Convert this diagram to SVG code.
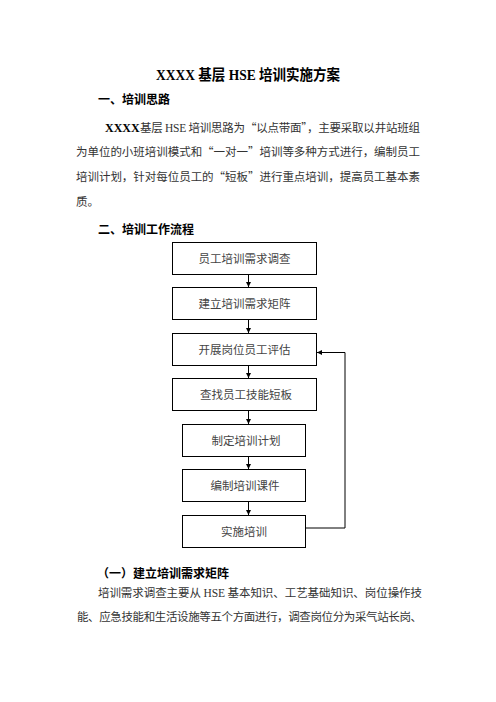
<svg xmlns="http://www.w3.org/2000/svg" width="496" height="702" viewBox="0 0 496 702">
<style>
.t{font-family:"Liberation Serif","Noto Sans CJK SC",serif;fill:#222}
.b{font-weight:bold;fill:#000}
.body{font-family:"Noto Sans CJK SC","Liberation Serif",sans-serif;font-size:11.5px;fill:#333}
.lat{font-family:"Liberation Serif","Noto Sans CJK SC",serif}
.box{fill:#fff;stroke:#000;stroke-width:1}
.bt{font-family:"Noto Sans CJK SC",sans-serif;font-size:11.5px;fill:#444;text-anchor:middle}
.ln{fill:none;stroke:#000;stroke-width:1}
</style>
<defs>
<marker id="ah" viewBox="0 0 10 10" refX="10" refY="5" markerWidth="5" markerHeight="5" orient="auto" markerUnits="userSpaceOnUse">
<path d="M0,0 L10,5 L0,10 z" fill="#000"/>
</marker>
</defs>
<rect width="496" height="702" fill="#fff"/>

<g id="title">
<text x="156" y="80" class="b" font-family="Liberation Serif,Noto Sans CJK SC,serif" font-size="15" textLength="184" lengthAdjust="spacingAndGlyphs"><tspan font-family="Liberation Serif">XXXX</tspan> <tspan font-family="Noto Sans CJK SC">基层</tspan> HSE <tspan font-family="Noto Sans CJK SC">培训实施方案</tspan></text>
</g>

<g id="section1">
<text x="98" y="104" font-family="Noto Sans CJK SC,sans-serif" font-size="12" font-weight="bold" fill="#000">一、培训思路</text>
<text x="105" y="132" font-family="Liberation Serif,serif" font-size="12" font-weight="bold" fill="#000">XXXX</text>
<text x="140" y="132" class="body" textLength="280" lengthAdjust="spacing">基层 <tspan class="lat">HSE</tspan> 培训思路为“以点带面”，主要采取以井站班组</text>
<text x="76" y="156" class="body" textLength="344" lengthAdjust="spacing">为单位的小班培训模式和“一对一”培训等多种方式进行，编制员工</text>
<text x="76" y="181" class="body" textLength="344" lengthAdjust="spacing">培训计划，针对每位员工的“短板”进行重点培训，提高员工基本素</text>
<text x="76" y="206" class="body">质。</text>
</g>

<g id="section2">
<text x="98" y="234" font-family="Noto Sans CJK SC,sans-serif" font-size="12" font-weight="bold" fill="#000">二、培训工作流程</text>
</g>

<g id="connectors">
<line class="ln" x1="248.5" y1="274" x2="248.5" y2="287" marker-end="url(#ah)"/>
<line class="ln" x1="248.5" y1="319" x2="248.5" y2="333" marker-end="url(#ah)"/>
<line class="ln" x1="248.5" y1="366" x2="248.5" y2="378" marker-end="url(#ah)"/>
<line class="ln" x1="248.5" y1="411" x2="248.5" y2="424" marker-end="url(#ah)"/>
<line class="ln" x1="248.5" y1="456" x2="248.5" y2="469" marker-end="url(#ah)"/>
<line class="ln" x1="248.5" y1="502" x2="248.5" y2="515" marker-end="url(#ah)"/>
<polyline class="ln" points="306,528 345,528 345,352.5 317,352.5" marker-end="url(#ah)"/>
</g>

<g id="n1"><rect class="box" x="172.5" y="242.5" width="144" height="32"/><text class="bt" x="244.5" y="262.5">员工培训需求调查</text></g>
<g id="n2"><rect class="box" x="172.5" y="287.5" width="144" height="32"/><text class="bt" x="244.5" y="307.5">建立培训需求矩阵</text></g>
<g id="n3"><rect class="box" x="172.5" y="333.5" width="144" height="32"/><text class="bt" x="244.5" y="353.5">开展岗位员工评估</text></g>
<g id="n4"><rect class="box" x="172.5" y="378.5" width="144" height="32"/><text class="bt" x="246" y="398.5">查找员工技能短板</text></g>
<g id="n5"><rect class="box" x="182.5" y="424.5" width="123" height="32"/><text class="bt" x="246" y="444.5">制定培训计划</text></g>
<g id="n6"><rect class="box" x="182.5" y="469.5" width="123" height="32"/><text class="bt" x="245" y="489.5">编制培训课件</text></g>
<g id="n7"><rect class="box" x="182.5" y="515.5" width="123" height="32"/><text class="bt" x="244" y="535.5">实施培训</text></g>

<g id="section3">
<text x="97" y="578" font-family="Noto Sans CJK SC,sans-serif" font-size="12" font-weight="bold" fill="#000">（一）建立培训需求矩阵</text>
<text x="98" y="597" class="body" textLength="324" lengthAdjust="spacing">培训需求调查主要从 <tspan class="lat">HSE</tspan> 基本知识、工艺基础知识、岗位操作技</text>
<text x="77" y="621" class="body" textLength="345" lengthAdjust="spacing">能、应急技能和生活设施等五个方面进行，调查岗位分为采气站长岗、</text>
</g>
</svg>
